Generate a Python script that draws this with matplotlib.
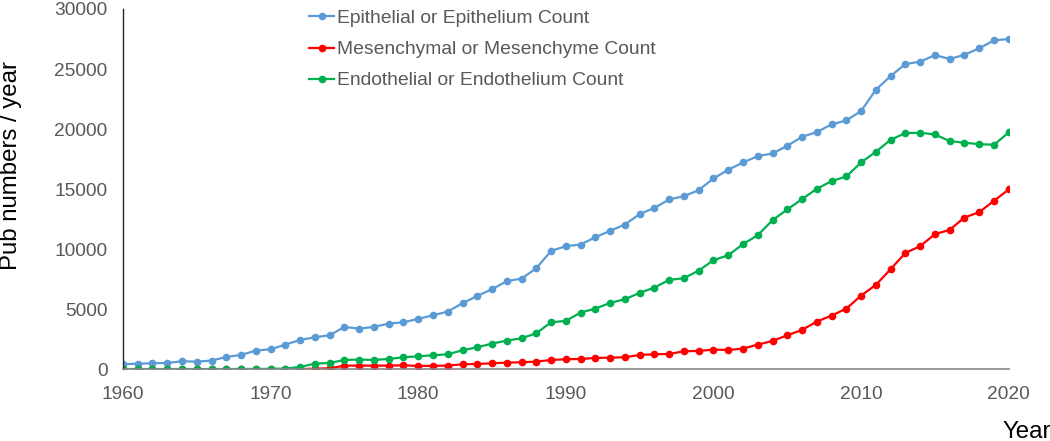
import numpy as np
import matplotlib.pyplot as plt

plt.rcParams['font.family'] = ['Liberation Sans', 'DejaVu Sans']

years = list(range(1960, 2021))

epithelial = [417, 472, 500, 528, 667, 640, 722, 1028, 1194, 1556,
              1667, 2056, 2444, 2667, 2833, 3528, 3389, 3528, 3806, 3917,
              4194, 4500, 4806, 5500, 6111, 6667, 7333, 7556, 8417, 9861,
              10250, 10389, 11000, 11528, 12056, 12917, 13444, 14139, 14417, 14917,
              15889, 16611, 17222, 17750, 17972, 18611, 19361, 19750, 20389, 20722,
              21500, 23278, 24417, 25417, 25611, 26167, 25833, 26194, 26722, 27389,
              27500]

mesenchymal = [0, 0, 0, 0, 0, 0, 0, 0, 0, 0,
               0, 10, 20, 50, 80, 306, 306, 306, 306, 333,
               278, 290, 306, 417, 444, 500, 556, 583, 639, 778,
               833, 861, 944, 972, 1000, 1194, 1250, 1278, 1500, 1528,
               1639, 1611, 1722, 2056, 2361, 2833, 3278, 3972, 4472, 5056,
               6139, 7028, 8333, 9694, 10250, 11250, 11611, 12639, 13083, 14028,
               14972]

endothelial = [20, 20, 20, 20, 20, 20, 20, 20, 30, 30,
               40, 60, 190, 472, 528, 778, 806, 778, 861, 1000,
               1083, 1167, 1250, 1583, 1833, 2139, 2389, 2583, 3000, 3917,
               4028, 4722, 5056, 5528, 5833, 6361, 6806, 7444, 7583, 8222,
               9083, 9500, 10417, 11167, 12417, 13306, 14167, 15028, 15667, 16056,
               17222, 18111, 19111, 19667, 19694, 19556, 19000, 18861, 18750, 18694,
               19722]

labels = ['Epithelial or Epithelium Count',
          'Mesenchymal or Mesenchyme Count',
          'Endothelial or Endothelium Count']
colors = ['#5B9BD5', '#FF0000', '#00B050']

fig = plt.figure(figsize=(10.5, 4.41), dpi=100)
ax = fig.add_axes([0.1171, 0.1626, 0.8436, 0.817])

for vals, lab, c in zip([epithelial, mesenchymal, endothelial], labels, colors):
    ax.plot(years, vals, color=c, marker='o', markersize=4.5, linewidth=1.6, label=lab)

ax.set_xlim(1960, 2020)
ax.set_ylim(0, 30000)
ax.set_xticks(range(1960, 2021, 10))
ax.set_yticks(range(0, 30001, 5000))
ax.tick_params(length=0, labelsize=13.8, labelcolor='#595959')
ax.tick_params(axis='x', pad=12)
ax.tick_params(axis='y', pad=11)

for s in ['top', 'right']:
    ax.spines[s].set_visible(False)
ax.spines['left'].set_color('#262626')
ax.spines['left'].set_linewidth(1.0)
ax.spines['bottom'].set_color('#868686')
ax.spines['bottom'].set_linewidth(1.2)

fig.text(11 / 1050, 1 - 165 / 441, 'Pub numbers / year', fontsize=17.3,
         rotation=90, ha='center', va='center', color='black')
fig.text(1002 / 1050, -0.004, 'Year', fontsize=17.3, ha='left', va='bottom', color='black')

leg = ax.legend(loc='upper left', bbox_to_anchor=(0.2104, 0.998), frameon=False,
                fontsize=13.9, labelcolor='#595959', handlelength=1.3,
                handletextpad=0.15, labelspacing=0.7, borderpad=0, borderaxespad=0)

fig.savefig('out.png', dpi=100)
